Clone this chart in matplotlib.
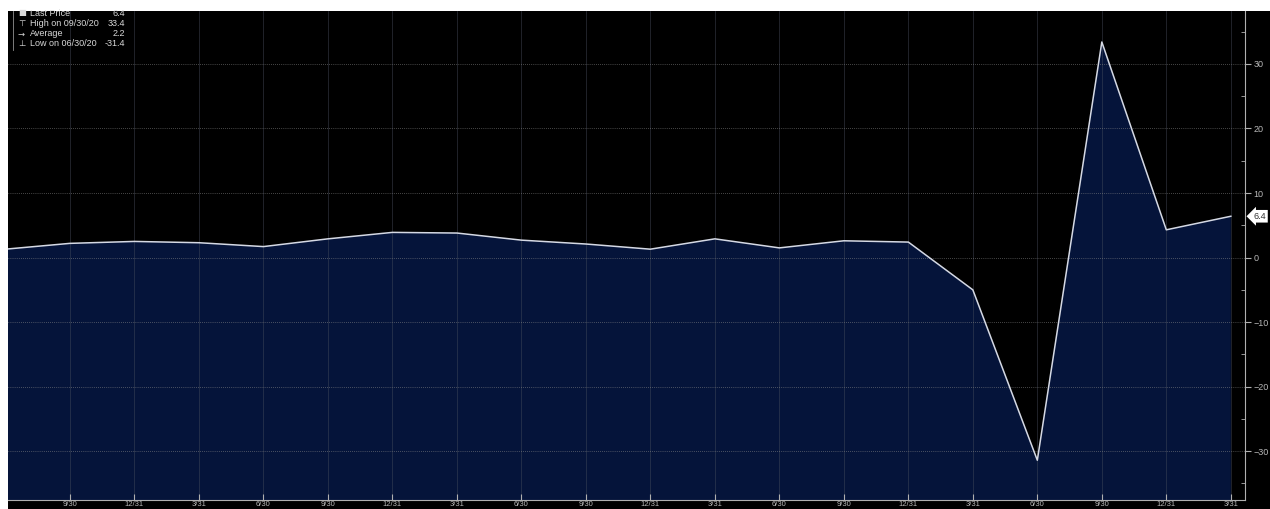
import matplotlib
matplotlib.use("Agg")
import matplotlib.pyplot as plt
from matplotlib.patches import Rectangle

# quarterly values, 6/30/16 .. 3/31/21
quarters = ["6/30", "9/30", "12/31", "3/31", "6/30", "9/30", "12/31", "3/31", "6/30", "9/30",
            "12/31", "3/31", "6/30", "9/30", "12/31", "3/31", "6/30", "9/30", "12/31", "3/31"]
values = [1.3, 2.2, 2.5, 2.3, 1.7, 2.9, 3.9, 3.8, 2.7, 2.1,
          1.3, 2.9, 1.5, 2.6, 2.4, -5.0, -31.4, 33.4, 4.3, 6.4]
legend_names = ["Last Price", "High on 09/30/20", "Average", "Low on 06/30/20"]
legend_values = ["6.4", "33.4", "2.2", "-31.4"]
legend_marks = ["\u25a0", "\u22a4", "\u2192", "\u22a5"]
y_ticks = [-30, -20, -10, 0, 10, 20, 30]

W, H = 1270, 509
fig = plt.figure(figsize=(W / 100, H / 100), dpi=100, facecolor="white")
fig.patches.append(Rectangle((8 / W, 0), 1, 1 - 11 / H, transform=fig.transFigure,
                             facecolor="black", edgecolor="none", zorder=-5))

ax = fig.add_axes([8 / W, 9 / H, 1237 / W, 489 / H])
ax.set_facecolor("black")

x = list(range(len(values)))
ax.fill_between(x, values, -100, color="#05143a", zorder=1, linewidth=0)
ax.plot(x, values, color="#d5d9e4", linewidth=1.1, zorder=3)

ax.set_xlim(0.04, 19.22)
ax.set_ylim(-37.56, 38.2)

ax.set_xticks(x[1:])
ax.set_xticklabels(quarters[1:])
ax.set_yticks(y_ticks)
ax.set_yticks(range(-35, 36, 5), minor=True)
ax.yaxis.tick_right()

ax.set_axisbelow("line")
ax.grid(axis="y", color="#8a8a8a", linestyle=(0, (1, 2)), linewidth=0.5)
ax.grid(axis="x", color="#4a5060", linestyle="-", linewidth=0.5, alpha=0.6)

for s in ["left", "top"]:
    ax.spines[s].set_visible(False)
for s in ["right", "bottom"]:
    ax.spines[s].set_color("#b0b0b0")
    ax.spines[s].set_linewidth(0.8)

ax.tick_params(axis="x", direction="in", length=4, color="#b0b0b0", labelcolor="#b8b8b8",
               labelsize=5.5, pad=0.5)
ax.tick_params(axis="y", which="major", direction="out", length=4, color="#b0b0b0",
               labelcolor="#b8b8b8", labelsize=6.5, pad=2)
ax.tick_params(axis="y", which="minor", direction="in", length=3, color="#b0b0b0")
for lab in ax.get_xticklabels() + ax.get_yticklabels():
    lab.set_family("Liberation Sans")

# last price tag
ax.annotate(f"{values[-1]:.1f}", xy=(1.0, values[-1]), xycoords=("axes fraction", "data"),
            xytext=(6, 0), textcoords="offset points", va="center", ha="left",
            fontsize=6.5, color="#333333", family="Liberation Sans",
            bbox=dict(boxstyle="larrow,pad=0.2", facecolor="white", edgecolor="none"))

# legend block top-left
row_y = [13, 23, 34, 44]
for mark, name, val, yy in zip(legend_marks, legend_names, legend_values, row_y):
    fy = 1 - yy / H
    fig.text(18 / W, fy, mark, color="#d8d8d8", fontsize=6, va="center", ha="left",
             family=["DejaVu Sans"])
    fig.text(30 / W, fy, name, color="#d8d8d8", fontsize=6.5, va="center", ha="left",
             family="Liberation Sans")
    fig.text(125 / W, fy, val, color="#d8d8d8", fontsize=6.5, va="center", ha="right",
             family="Liberation Sans")
fig.lines.append(plt.Line2D([13 / W, 13 / W], [1 - 11 / H, 1 - 50 / H], transform=fig.transFigure,
                            color="#909090", linewidth=0.6))

fig.savefig("out.png", dpi=100, facecolor="white")
